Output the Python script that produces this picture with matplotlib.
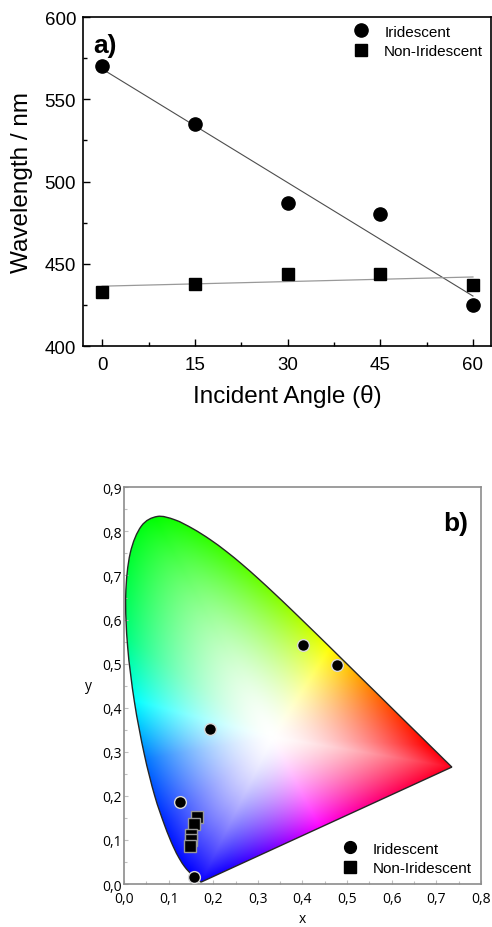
import numpy as np
import matplotlib
matplotlib.use("Agg")
import matplotlib.pyplot as plt
from matplotlib.colors import hsv_to_rgb
from matplotlib.path import Path
from matplotlib.patches import PathPatch
from matplotlib.ticker import MultipleLocator, FuncFormatter

# panel a) peak wavelength vs incident angle
angle = [0, 15, 30, 45, 60]
wl_irid = [570, 535, 487, 480, 425]
wl_non = [433, 438, 444, 444, 437]

# panel b) CIE 1931 chromaticity of the same samples
cie_irid_x = [0.402, 0.477, 0.193, 0.126, 0.158]
cie_irid_y = [0.542, 0.497, 0.351, 0.185, 0.017]
cie_non_x = [0.164, 0.156, 0.151, 0.151, 0.148]
cie_non_y = [0.151, 0.137, 0.112, 0.100, 0.087]

# CIE 1931 2 deg spectral locus, 380-700 nm every 5 nm
locus_x = [0.1741, 0.1740, 0.1738, 0.1736, 0.1733, 0.1730, 0.1726, 0.1721, 0.1714, 0.1703,
           0.1689, 0.1669, 0.1644, 0.1611, 0.1566, 0.1510, 0.1440, 0.1355, 0.1241, 0.1096,
           0.0913, 0.0687, 0.0454, 0.0235, 0.0082, 0.0039, 0.0139, 0.0389, 0.0743, 0.1142,
           0.1547, 0.1929, 0.2296, 0.2658, 0.3016, 0.3373, 0.3731, 0.4087, 0.4441, 0.4788,
           0.5125, 0.5448, 0.5752, 0.6029, 0.6270, 0.6482, 0.6658, 0.6801, 0.6915, 0.7006,
           0.7079, 0.7140, 0.7190, 0.7230, 0.7260, 0.7283, 0.7300, 0.7311, 0.7320, 0.7327,
           0.7334, 0.7340, 0.7344, 0.7346, 0.7347]
locus_y = [0.0050, 0.0050, 0.0049, 0.0049, 0.0048, 0.0048, 0.0048, 0.0048, 0.0051, 0.0058,
           0.0069, 0.0086, 0.0109, 0.0138, 0.0177, 0.0227, 0.0297, 0.0399, 0.0578, 0.0868,
           0.1327, 0.2007, 0.2950, 0.4127, 0.5384, 0.6548, 0.7502, 0.8120, 0.8338, 0.8262,
           0.8059, 0.7816, 0.7543, 0.7243, 0.6923, 0.6589, 0.6245, 0.5896, 0.5547, 0.5202,
           0.4866, 0.4544, 0.4242, 0.3965, 0.3725, 0.3514, 0.3340, 0.3197, 0.3083, 0.2993,
           0.2920, 0.2859, 0.2809, 0.2770, 0.2740, 0.2717, 0.2700, 0.2689, 0.2680, 0.2673,
           0.2666, 0.2660, 0.2656, 0.2654, 0.2653]
white_xy = (0.333, 0.333)
# angle around the white point (deg) -> displayed hue (deg)
wheel_angle = [0, 45, 100, 145, 165, 190, 220, 250, 270, 300, 360]
wheel_hue = [3, 48, 100, 150, 180, 212, 232, 245, 268, 303, 363]


def locus_curve(px, py):
    # smooth closed outline: Catmull-Rom beziers through the locus + straight purple line
    pts = np.column_stack([px, py])
    n = len(pts)
    verts, codes = [pts[0]], [Path.MOVETO]
    dense = [pts[:1]]
    t = np.linspace(0, 1, 12)[1:, None]
    for i in range(n - 1):
        p0, p1, p2, p3 = pts[max(i - 1, 0)], pts[i], pts[i + 1], pts[min(i + 2, n - 1)]
        c1, c2 = p1 + (p2 - p0) / 6, p2 - (p3 - p1) / 6
        verts += [c1, c2, p2]
        codes += [Path.CURVE4] * 3
        dense.append((1 - t) ** 3 * p1 + 3 * (1 - t) ** 2 * t * c1 + 3 * (1 - t) * t ** 2 * c2 + t ** 3 * p2)
    verts += [pts[0], pts[0]]
    codes += [Path.LINETO, Path.CLOSEPOLY]
    s = np.linspace(0, 1, 200)[1:-1, None]
    dense.append(pts[-1] + s * (pts[0] - pts[-1]))
    return Path(verts, codes), np.vstack(dense)


def chroma_image(gx, gy, boundary, k=1.55):
    # colour wheel around the white point: hue from the angle, saturation from the
    # fraction of the way out to the locus
    wx, wy = white_xy
    ang_b = np.arctan2(boundary[:, 1] - wy, boundary[:, 0] - wx)
    rad_b = np.hypot(boundary[:, 0] - wx, boundary[:, 1] - wy)
    o = np.argsort(ang_b)
    ang = np.arctan2(gy - wy, gx - wx)
    d = np.hypot(gx - wx, gy - wy)
    rb = np.interp(ang, ang_b[o], rad_b[o], period=2 * np.pi)
    sat = np.clip(d / rb, 0, 1) ** k
    hue = (np.interp(np.degrees(ang) % 360, wheel_angle, wheel_hue) % 360) / 360
    return hsv_to_rgb(np.stack([hue, sat, np.ones_like(sat)], axis=-1))


plt.rcParams["font.family"] = ["Liberation Sans", "DejaVu Sans"]
fig = plt.figure(figsize=(4.92, 9.28), dpi=100)

# ---------------- a) ----------------
ax = fig.add_axes([0.1687, 0.626, 0.829, 0.3546])
ax.plot(angle, wl_irid, "o", color="black", ms=9.5, zorder=3, label="Iridescent")
ax.plot(angle, wl_non, "s", color="black", ms=8.5, zorder=3, label="Non-Iridescent")
xf = np.array([angle[0], angle[-1]])
p1 = np.polyfit(angle, wl_irid, 1)
p2 = np.polyfit(angle, wl_non, 1)
ax.plot(xf, np.polyval(p1, xf), "-", color="0.3", lw=0.8, zorder=2)
ax.plot(xf, np.polyval(p2, xf), "-", color="0.6", lw=0.9, zorder=2)
ax.set_xlim(-3.1, 62.9)
ax.set_ylim(400, 600)
ax.xaxis.set_major_locator(MultipleLocator(15))
ax.xaxis.set_minor_locator(MultipleLocator(7.5))
ax.yaxis.set_major_locator(MultipleLocator(50))
ax.yaxis.set_minor_locator(MultipleLocator(25))
ax.tick_params(which="both", direction="in", labelsize=13.5, width=1.0)
ax.tick_params(which="major", length=5)
ax.tick_params(which="minor", length=3)
ax.tick_params(axis="x", pad=7)
ax.tick_params(axis="y", pad=5)
for s in ax.spines.values():
    s.set_linewidth(1.2)
ax.set_xlabel("Incident Angle (\u03b8)", fontsize=17.5, labelpad=8)
ax.set_ylabel("Wavelength / nm", fontsize=17.5, labelpad=8)
ax.text(0.055, 0.915, "a)", transform=ax.transAxes, fontsize=19, fontweight="bold",
        ha="center", va="center")
ax.legend(loc="upper right", frameon=False, fontsize=11, handletextpad=0.55,
          labelspacing=0.35, borderaxespad=0.1, bbox_to_anchor=(1.0, 1.0))

# ---------------- b) ----------------
bx = fig.add_axes([0.252, 0.0463, 0.7256, 0.4275])
locus_path, boundary = locus_curve(locus_x, locus_y)
xs = np.linspace(0, 0.8, 480)
ys = np.linspace(0, 0.9, 540)
gx, gy = np.meshgrid(xs, ys)
img = chroma_image(gx, gy, boundary)
im = bx.imshow(img, extent=[0, 0.8, 0, 0.9], origin="lower", aspect="auto",
               interpolation="bilinear", zorder=1)
horseshoe = PathPatch(locus_path, transform=bx.transData, facecolor="none",
                      edgecolor="0.15", lw=1.0, zorder=2)
bx.add_patch(horseshoe)
im.set_clip_path(horseshoe)
bx.plot(cie_irid_x, cie_irid_y, "o", color="black", mec="0.85", mew=1.0, ms=8.5,
        zorder=4, label="Iridescent")
bx.plot(cie_non_x, cie_non_y, "s", color="black", mec="0.6", mew=1.0, ms=8,
        zorder=3, label="Non-Iridescent")
bx.set_xlim(0, 0.8)
bx.set_ylim(0, 0.9)
bx.xaxis.set_major_locator(MultipleLocator(0.1))
bx.xaxis.set_minor_locator(MultipleLocator(0.05))
bx.yaxis.set_major_locator(MultipleLocator(0.1))
bx.yaxis.set_minor_locator(MultipleLocator(0.05))
comma = FuncFormatter(lambda v, pos: f"{v:.1f}".replace(".", ","))
bx.xaxis.set_major_formatter(comma)
bx.yaxis.set_major_formatter(comma)
bx.tick_params(which="both", direction="in", color="0.75", width=0.8)
bx.tick_params(which="major", length=3)
bx.tick_params(which="minor", length=2)
bx.tick_params(axis="x", pad=5)
bx.tick_params(axis="y", pad=1.5)
for lab in bx.get_xticklabels() + bx.get_yticklabels():
    lab.set_family(["Open Sans", "DejaVu Sans"])
    lab.set_fontsize(10)
for s in bx.spines.values():
    s.set_color("0.55")
    s.set_linewidth(1.2)
bx.set_xlabel("x", fontsize=10, labelpad=3.5, family=["Open Sans", "DejaVu Sans"])
bx.set_ylabel("y", fontsize=10, labelpad=10, rotation=0, va="center",
              family=["Open Sans", "DejaVu Sans"])
bx.text(0.93, 0.91, "b)", transform=bx.transAxes, fontsize=19, fontweight="bold",
        ha="center", va="center")
leg = bx.legend(loc="lower right", frameon=False, fontsize=11, handletextpad=0.5,
                labelspacing=0.35, borderaxespad=0.2)
for h in leg.legend_handles:
    h.set_markeredgecolor("black")

fig.savefig("out.png", dpi=100)
